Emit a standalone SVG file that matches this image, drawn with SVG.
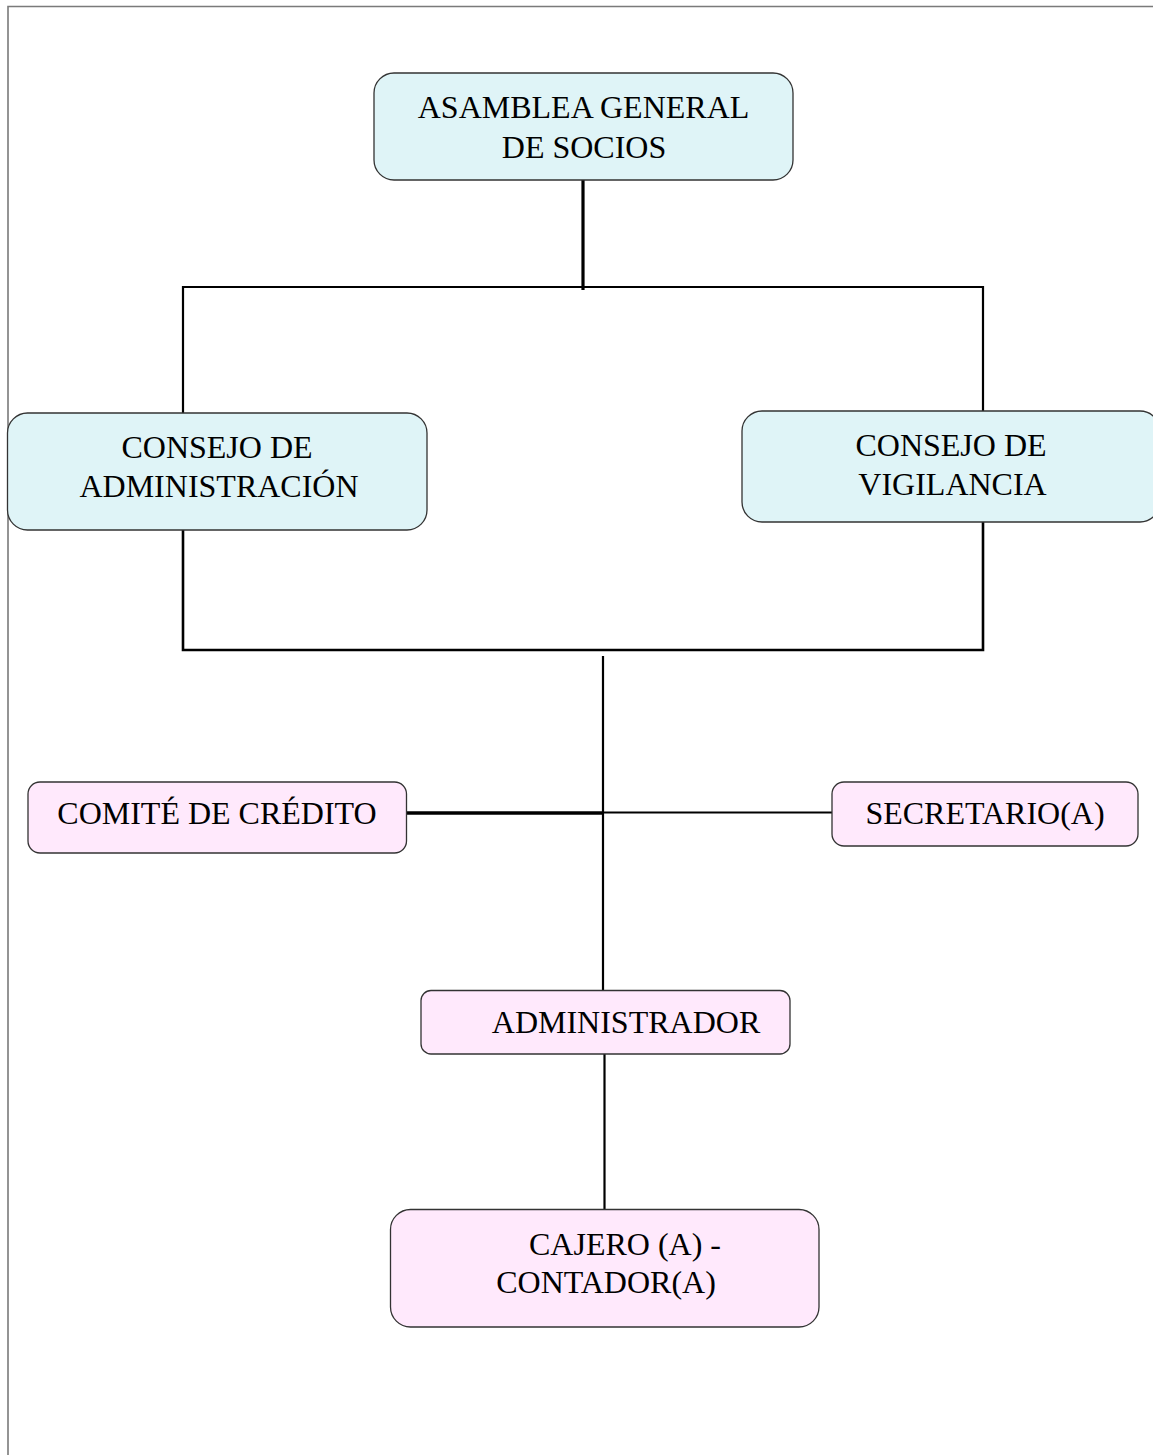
<svg xmlns="http://www.w3.org/2000/svg" width="1153" height="1455" viewBox="0 0 1153 1455">
<style>
.cyan{fill:#DFF4F7;stroke:#333;stroke-width:1.3}
.pink{fill:#FFE9FC;stroke:#333;stroke-width:1.3}
.t{font-family:"Liberation Serif","Times New Roman",serif;font-size:32px;fill:#000;text-anchor:middle}
.c{fill:none;stroke:#000;stroke-width:2.2}
</style>
<rect width="1153" height="1455" fill="#fff"/>
<path d="M8,1455 V6.5 H1153" fill="none" stroke="#7a7a7a" stroke-width="1.6"/>
<g id="connectors">
<line class="c" x1="583" y1="180" x2="583" y2="290" style="stroke-width:3.2"/>
<path class="c" d="M183,413 V287 H983 V411"/>
<path class="c" d="M183,530 V650 H983 V522" style="stroke-width:2.6"/>
<line class="c" x1="603" y1="656" x2="603" y2="990"/>
<line class="c" x1="406" y1="813" x2="603" y2="813" style="stroke-width:3.6"/>
<line class="c" x1="603" y1="812.5" x2="832" y2="812.5"/>
<line class="c" x1="604.5" y1="1054" x2="604.5" y2="1210"/>
</g>
<g id="asamblea">
<rect class="cyan" x="374" y="73" width="419" height="107" rx="20"/>
<text class="t" x="583.5" y="117.5">ASAMBLEA GENERAL</text>
<text class="t" x="584" y="157.5">DE SOCIOS</text>
</g>
<g id="consejo-admin">
<rect class="cyan" x="7.5" y="413" width="419.5" height="117" rx="20"/>
<text class="t" x="217" y="458">CONSEJO DE</text>
<text class="t" x="219" y="497">ADMINISTRACIÓN</text>
</g>
<g id="consejo-vigilancia">
<rect class="cyan" x="742" y="411" width="418" height="111" rx="20"/>
<text class="t" x="951" y="456">CONSEJO DE</text>
<text class="t" x="952.5" y="495">VIGILANCIA</text>
</g>
<g id="comite">
<rect class="pink" x="28" y="782" width="378.5" height="71" rx="12"/>
<text class="t" x="217" y="824">COMITÉ DE CRÉDITO</text>
</g>
<g id="secretario">
<rect class="pink" x="832" y="782" width="306" height="64" rx="12"/>
<text class="t" x="985" y="824">SECRETARIO(A)</text>
</g>
<g id="administrador">
<rect class="pink" x="421" y="990.5" width="369" height="63.5" rx="10"/>
<text class="t" x="626" y="1033">ADMINISTRADOR</text>
</g>
<g id="cajero">
<rect class="pink" x="390.5" y="1209.5" width="428.5" height="117.5" rx="20"/>
<text class="t" x="625" y="1255">CAJERO (A) -</text>
<text class="t" x="606" y="1293">CONTADOR(A)</text>
</g>
</svg>
